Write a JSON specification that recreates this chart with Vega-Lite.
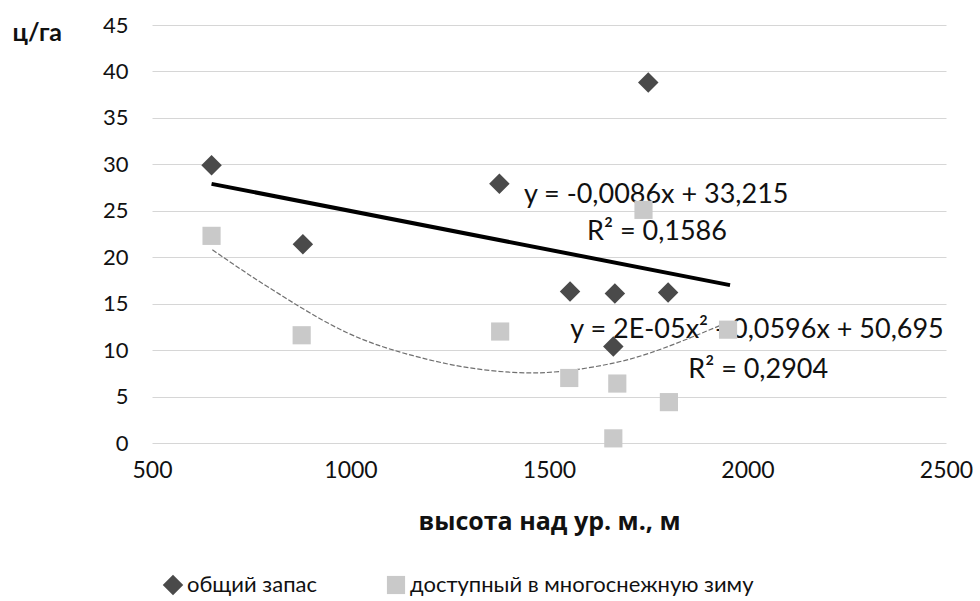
{
  "$schema": "https://vega.github.io/schema/vega-lite/v6.json",
  "width": 794,
  "height": 418,
  "autosize": {"type": "none"},
  "padding": {"left": 152, "top": 25, "right": 34, "bottom": 158},
  "background": "#ffffff",
  "config": {
    "font": "Lato",
    "view": {"stroke": null},
    "axisY": {
      "ticks": false, "domain": false, "grid": true, "gridColor": "#d6d6d6", "gridWidth": 1,
      "labelFontSize": 22, "labelColor": "#111111", "labelPadding": 24, "labelFont": "Lato",
      "titleAngle": 0, "titleAlign": "left", "titleBaseline": "middle", "titleX": -140, "titleY": 7,
      "titleFontSize": 25, "titleFontWeight": "bold", "titleColor": "#111111", "titleFont": "Lato"
    },
    "axisX": {
      "ticks": false, "domain": false, "grid": false, "labelFlush": false,
      "labelFontSize": 23, "labelColor": "#111111", "labelPadding": 16, "labelFont": "Lato",
      "titleFontSize": 25, "titleFontWeight": "bold", "titleColor": "#111111", "titleFont": "Open Sans",
      "titleBaseline": "middle", "titleY": 78
    }
  },
  "datasets": {
    "points": [
      {"series": "общий запас", "x": 650, "y": 29.9},
      {"series": "общий запас", "x": 880, "y": 21.4},
      {"series": "общий запас", "x": 1375, "y": 27.9},
      {"series": "общий запас", "x": 1553, "y": 16.3},
      {"series": "общий запас", "x": 1666, "y": 16.1},
      {"series": "общий запас", "x": 1800, "y": 16.2},
      {"series": "общий запас", "x": 1750, "y": 38.8},
      {"series": "общий запас", "x": 1662, "y": 10.4},
      {"series": "доступный в многоснежную зиму", "x": 650, "y": 22.3},
      {"series": "доступный в многоснежную зиму", "x": 877, "y": 11.6},
      {"series": "доступный в многоснежную зиму", "x": 1377, "y": 12.0},
      {"series": "доступный в многоснежную зиму", "x": 1551, "y": 7.0},
      {"series": "доступный в многоснежную зиму", "x": 1672, "y": 6.4},
      {"series": "доступный в многоснежную зиму", "x": 1662, "y": 0.5},
      {"series": "доступный в многоснежную зиму", "x": 1738, "y": 25.1},
      {"series": "доступный в многоснежную зиму", "x": 1802, "y": 4.4},
      {"series": "доступный в многоснежную зиму", "x": 1951, "y": 12.2}
    ],
    "linear": [
      {"x": 650, "y": 27.9},
      {"x": 1956, "y": 17.0}
    ],
    "poly": [
      {"x": 652, "y": 20.8},
      {"x": 738, "y": 18.3},
      {"x": 822, "y": 16.0},
      {"x": 990, "y": 11.9},
      {"x": 1158, "y": 9.4},
      {"x": 1284, "y": 8.2},
      {"x": 1410, "y": 7.6},
      {"x": 1528, "y": 7.7},
      {"x": 1662, "y": 8.6},
      {"x": 1788, "y": 10.2},
      {"x": 1951, "y": 13.0}
    ],
    "labels": [
      {"x": 1770, "y": 26.7, "text": "y = -0,0086x + 33,215"},
      {"x": 1772, "y": 22.7, "text": "R² = 0,1586"},
      {"x": 2024, "y": 12.2, "text": "y = 2E-05x² - 0,0596x + 50,695"},
      {"x": 2027, "y": 7.9, "text": "R² = 0,2904"}
    ]
  },
  "layer": [
    {
      "data": {"name": "poly"},
      "mark": {"type": "line", "color": "#707070", "strokeWidth": 1.2, "strokeDash": [5, 2], "interpolate": "natural"},
      "encoding": {
        "x": {"field": "x", "type": "quantitative", "scale": {"domain": [500, 2500], "nice": false, "zero": false, "padding": 0}, "axis": {"values": [500, 1000, 1500, 2000, 2500], "format": "d", "title": "высота над ур. м., м"}},
        "y": {"field": "y", "type": "quantitative", "scale": {"domain": [0, 45], "nice": false, "padding": 0}, "axis": {"values": [0, 5, 10, 15, 20, 25, 30, 35, 40, 45], "format": "d", "title": "ц/га"}}
      }
    },
    {
      "data": {"name": "linear"},
      "mark": {"type": "line", "color": "#000000", "strokeWidth": 4},
      "encoding": {
        "x": {"field": "x", "type": "quantitative"},
        "y": {"field": "y", "type": "quantitative"}
      }
    },
    {
      "data": {"name": "labels"},
      "mark": {"type": "text", "align": "center", "baseline": "middle", "fontSize": 27, "font": "Lato", "color": "#111111"},
      "encoding": {
        "x": {"field": "x", "type": "quantitative"},
        "y": {"field": "y", "type": "quantitative"},
        "text": {"field": "text"}
      }
    },
    {
      "data": {"name": "points"},
      "mark": {"type": "point", "filled": true, "opacity": 1},
      "encoding": {
        "x": {"field": "x", "type": "quantitative"},
        "y": {"field": "y", "type": "quantitative"},
        "color": {
          "field": "series", "type": "nominal",
          "scale": {"domain": ["общий запас", "доступный в многоснежную зиму"], "range": ["#4a4a4a", "#c9c9c9"]},
          "legend": {
            "title": null, "orient": "none", "legendX": 10, "legendY": 549, "direction": "horizontal",
            "labelFontSize": 22, "labelFont": "Lato", "labelColor": "#111111", "symbolSize": 80,
            "columnPadding": 68, "labelOffset": 3, "labelLimit": 0
          }
        },
        "shape": {
          "field": "series", "type": "nominal",
          "scale": {"domain": ["общий запас", "доступный в многоснежную зиму"], "range": ["diamond", "square"]}
        },
        "size": {
          "field": "series", "type": "nominal",
          "scale": {"domain": ["общий запас", "доступный в многоснежную зиму"], "range": [420, 330]},
          "legend": null
        }
      }
    }
  ]
}
